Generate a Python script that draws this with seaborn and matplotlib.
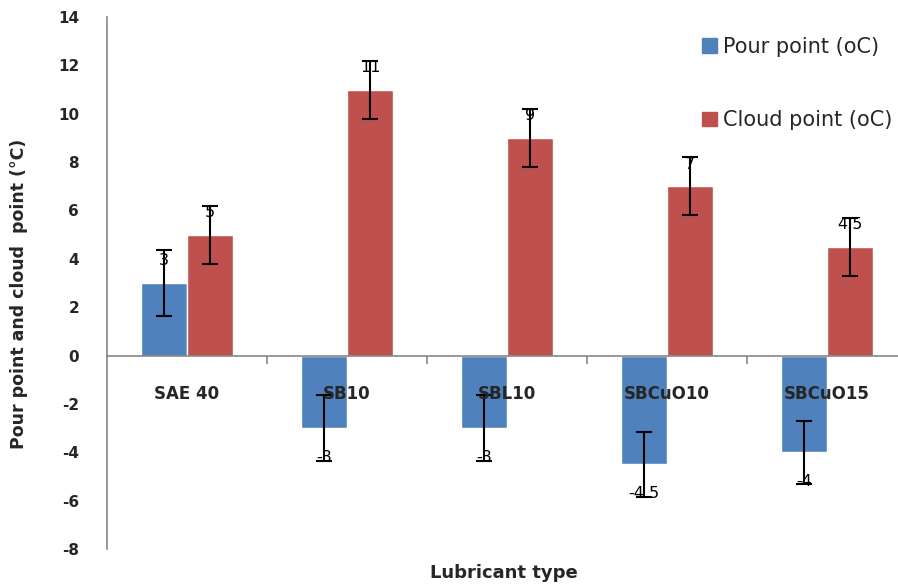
import numpy as np
import pandas as pd
import matplotlib
matplotlib.use("Agg")
import matplotlib.pyplot as plt
import seaborn as sns
from matplotlib.patches import Patch

# data
lubricants = ["SAE 40", "SB10", "SBL10", "SBCuO10", "SBCuO15"]
pour_point = [3, -3, -3, -4.5, -4]
cloud_point = [5, 11, 9, 7, 4.5]
pour_err = [1.35, 1.35, 1.35, 1.35, 1.3]
cloud_err = [1.2, 1.2, 1.2, 1.2, 1.2]
series = ["Pour point (oC)", "Cloud point (oC)"]
colors = ["#4F81BD", "#C0504D"]

df = pd.DataFrame({
    "Lubricant": lubricants * 2,
    "Series": [series[0]] * len(lubricants) + [series[1]] * len(lubricants),
    "Value": pour_point + cloud_point,
})
errors = {series[0]: pour_err, series[1]: cloud_err}

sns.set_style("white")
plt.rcParams['font.family'] = ['DejaVu Sans']
plt.rcParams['axes.unicode_minus'] = False

fig = plt.figure(figsize=(8.98, 5.84), dpi=100)
ax = fig.add_axes([107 / 898, 1 - 549 / 584, 800 / 898, 532 / 584])

sns.barplot(data=df, x="Lubricant", y="Value", hue="Series", palette=colors,
            width=0.58, gap=0, saturation=1, errorbar=None, ax=ax, legend=False)

# error bars and value labels on each bar
for cont, name in zip(ax.containers, series):
    vals = df[df["Series"] == name]["Value"].tolist()
    errs = errors[name]
    for bar, v, e in zip(cont, vals, errs):
        cx = bar.get_x() + bar.get_width() / 2
        ax.errorbar(cx, v, yerr=e, color="black", lw=1.5, capsize=6, capthick=1.5)
        off = 16 if v > 0 else -21
        ax.annotate(f"{v:g}", (cx, v), xytext=(0, off), textcoords="offset points",
                    ha="center", va="center", fontsize=11.5, color="black")

ax.set_ylim(-8, 14)
ax.set_yticks(np.arange(-8, 15, 2))
ax.set_xlim(-0.5, len(lubricants) - 0.5)
ax.tick_params(axis="y", direction="out", length=8, color="#868686", labelsize=11, pad=12)
for t in ax.get_yticklabels():
    t.set_fontweight("bold")

# category axis sits on the zero line, separators as minor ticks
ax.spines["bottom"].set_position(("data", 0))
ax.spines["bottom"].set_color("#868686")
ax.spines["bottom"].set_linewidth(1.2)
ax.set_xticks(np.arange(0.5, len(lubricants) - 0.5, 1), minor=True)
ax.tick_params(axis="x", which="major", length=0, pad=21, labelsize=12)
ax.tick_params(axis="x", which="minor", direction="out", length=6, width=1.2,
               color="#868686", bottom=True)
for t in ax.get_xticklabels():
    t.set_fontweight("bold")
ax.xaxis.set_zorder(10)

for s in ["top", "right"]:
    ax.spines[s].set_visible(False)
ax.spines["left"].set_color("#868686")
ax.spines["left"].set_linewidth(1.2)

ax.set_xlabel("Lubricant type", fontsize=13, fontweight="bold")
ax.xaxis.set_label_coords((504 - 107) / 800, -0.028)
ax.set_ylabel("Pour point and cloud  point (°C)", fontsize=12.5, fontweight="bold")
ax.yaxis.set_label_coords((28 - 107) / 800, 0.48)

handles = [Patch(color=c) for c in colors]
fig.legend(handles, series, loc="upper left", bbox_to_anchor=(702 / 898, 1 - 37 / 584),
           frameon=False, fontsize=15, handlelength=0.7, handleheight=0.7,
           handletextpad=0.3, labelspacing=2.55, borderpad=0, borderaxespad=0)

fig.savefig("out.png", dpi=100)
